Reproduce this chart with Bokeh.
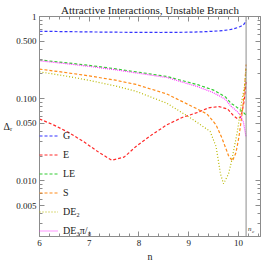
from bokeh.plotting import figure
from bokeh.models import FixedTicker, LinearAxis, LogAxis, Label, Legend, LegendItem, Span
from bokeh.embed import file_html
from bokeh.resources import INLINE

# ---- data ----
nc = 10.154

G_n = [6, 6.5, 7, 7.5, 8, 8.44, 9, 9.3, 9.5, 9.7, 9.8, 9.9, 9.98, 10.04, 10.1, 10.13, 10.154]
G = [0.661, 0.655, 0.649, 0.644, 0.641, 0.639, 0.644, 0.652, 0.661, 0.675, 0.687, 0.705, 0.733, 0.755, 0.79, 0.834, 0.90]

E_n = [6, 6.28, 6.59, 6.89, 7.2, 7.45, 7.7, 7.94, 8.25, 8.56, 8.87, 9.18, 9.4, 9.61, 9.78, 9.9, 9.98, 10.04, 10.07, 10.11, 10.13, 10.154]
E = [0.0566, 0.048, 0.0386, 0.0299, 0.0221, 0.0178, 0.0194, 0.0262, 0.036, 0.048, 0.059, 0.068, 0.0774, 0.080, 0.075, 0.062, 0.057, 0.059, 0.068, 0.090, 0.110, 0.16]

LE_n = [6, 6.5, 7, 7.5, 7.94, 8.56, 9.18, 9.5, 9.74, 9.85, 9.95, 10.04, 10.1, 10.154]
LE = [0.296, 0.275, 0.254, 0.232, 0.212, 0.186, 0.148, 0.127, 0.105, 0.088, 0.080, 0.073, 0.068, 0.063]

S_n = [6, 6.5, 7, 7.5, 7.94, 8.56, 9.06, 9.37, 9.55, 9.67, 9.8, 9.88, 9.95, 10.01, 10.07, 10.12, 10.154]
S = [0.229, 0.209, 0.189, 0.169, 0.149, 0.114, 0.081, 0.065, 0.048, 0.033, 0.0203, 0.0174, 0.022, 0.034, 0.063, 0.124, 0.26]

DE2_n = [6, 6.5, 7, 7.5, 7.94, 8.56, 9.06, 9.43, 9.55, 9.64, 9.70, 9.80, 9.86, 9.98, 10.07, 10.13, 10.154]
DE2 = [0.212, 0.190, 0.167, 0.144, 0.123, 0.088, 0.057, 0.040, 0.0262, 0.0121, 0.0092, 0.0121, 0.0171, 0.040, 0.096, 0.148, 0.235]

DE3_n = [6, 6.5, 7, 7.5, 7.94, 8.56, 9.18, 9.5, 9.74, 9.85, 9.95, 10.04, 10.1, 10.154]
DE3 = [0.289, 0.268, 0.247, 0.226, 0.206, 0.181, 0.140, 0.118, 0.098, 0.081, 0.072, 0.063, 0.052, 0.034]

x_major = [6, 7, 8, 9, 10]
y_major = [0.005, 0.01, 0.05, 0.1, 0.5, 1]
y_labels = ["0.005", "0.010", "0.050", "0.100", "0.500", "1"]

series = [
    ("G", G_n, G, "#3333ff", "3 2"),
    ("E", E_n, E, "#ff2a2a", "3 2"),
    ("LE", LE_n, LE, "#33cc33", "3 2"),
    ("S", S_n, S, "#ff8c1a", "3 2"),
    ("DE\u2082", DE2_n, DE2, "#b8b800", "1 2"),
    ("DE\u2083\u03c0/\u2088", DE3_n, DE3, "#ff33ff", "1 1"),
]

SERIF = "Liberation Serif"
FRAME = "#8c8c8c"
TXT = "#222222"

p = figure(width=261, height=264, y_axis_type="log",
           x_range=(6, 10.444), y_range=(0.0021, 1),
           output_backend="svg", toolbar_location=None,
           min_border_left=2, min_border_right=1, min_border_top=2, min_border_bottom=2)

p.title.text = "Attractive Interactions, Unstable Branch"
p.title.text_font = SERIF
p.title.text_font_size = "11px"
p.title.text_font_style = "normal"
p.title.text_color = TXT
p.title.align = "center"
p.title.standoff = 2

p.xgrid.visible = False
p.ygrid.visible = False
p.outline_line_color = FRAME
p.background_fill_color = "white"

x_minor = [round(6 + 0.2 * i, 1) for i in range(23) if i % 5 != 0]
y_minor = [k * 10.0 ** e for e in (-3, -2, -1) for k in range(1, 10)
           if k * 10.0 ** e not in y_major]
xt = FixedTicker(ticks=x_major, minor_ticks=x_minor)
yt = FixedTicker(ticks=y_major, minor_ticks=y_minor)

def style(ax, labels=True):
    ax.axis_line_color = FRAME
    ax.major_tick_line_color = FRAME
    ax.minor_tick_line_color = FRAME
    ax.major_tick_in = 5
    ax.major_tick_out = 0
    ax.minor_tick_in = 3
    ax.minor_tick_out = 0
    ax.major_label_text_font = SERIF
    ax.major_label_text_color = TXT
    ax.major_label_text_font_size = "9px"
    if not labels:
        ax.major_label_text_font_size = "1px"
        ax.major_label_text_color = None
        ax.major_label_standoff = 0

xa = p.xaxis[0]
xa.ticker = xt
style(xa)
xa.major_label_standoff = 3
xa.axis_label = "n"
xa.axis_label_text_font = SERIF
xa.axis_label_text_font_style = "normal"
xa.axis_label_text_font_size = "10px"
xa.axis_label_text_color = TXT
xa.axis_label_standoff = 2

ya = p.yaxis[0]
ya.ticker = yt
style(ya)
ya.major_label_standoff = 3
ya.major_label_overrides = {v: s for v, s in zip(y_major, y_labels)}
ya.axis_label = "\u0394\u1d63"
ya.axis_label_orientation = "horizontal"
ya.axis_label_text_font = SERIF
ya.axis_label_text_font_style = "normal"
ya.axis_label_text_font_size = "10px"
ya.axis_label_text_color = TXT
ya.axis_label_standoff = 1

top = LinearAxis(ticker=xt)
style(top, labels=False)
top.major_label_overrides = {v: "" for v in x_major}
p.add_layout(top, "above")
right = LogAxis(ticker=yt)
style(right, labels=False)
right.major_label_overrides = {v: "" for v in y_major}
p.add_layout(right, "right")

items = []
for name, xs, ys, col, dash in series:
    r = p.line(xs, ys, line_color=col, line_width=1.2, line_dash=dash)
    items.append(LegendItem(label=name, renderers=[r]))

p.add_layout(Span(location=nc, dimension="height", line_color=FRAME, line_width=1))

leg = Legend(items=items, location="bottom_left")
leg.label_text_font = SERIF
leg.label_text_font_size = "10px"
leg.label_text_color = TXT
leg.glyph_width = 19
leg.glyph_height = 11
leg.label_height = 11
leg.spacing = 8
leg.padding = 3
leg.margin = 0
leg.label_standoff = 5
leg.background_fill_alpha = 0
leg.border_line_color = None
p.add_layout(leg)

p.add_layout(Label(x=nc, y=0.0021, x_offset=2, y_offset=4, text="n",
                   text_font=SERIF, text_font_style="italic", text_font_size="7px", text_color=TXT))
p.add_layout(Label(x=nc, y=0.0021, x_offset=6, y_offset=3, text="c",
                   text_font=SERIF, text_font_style="italic", text_font_size="5px", text_color=TXT))

open("out.html", "w").write(file_html(p, INLINE))
